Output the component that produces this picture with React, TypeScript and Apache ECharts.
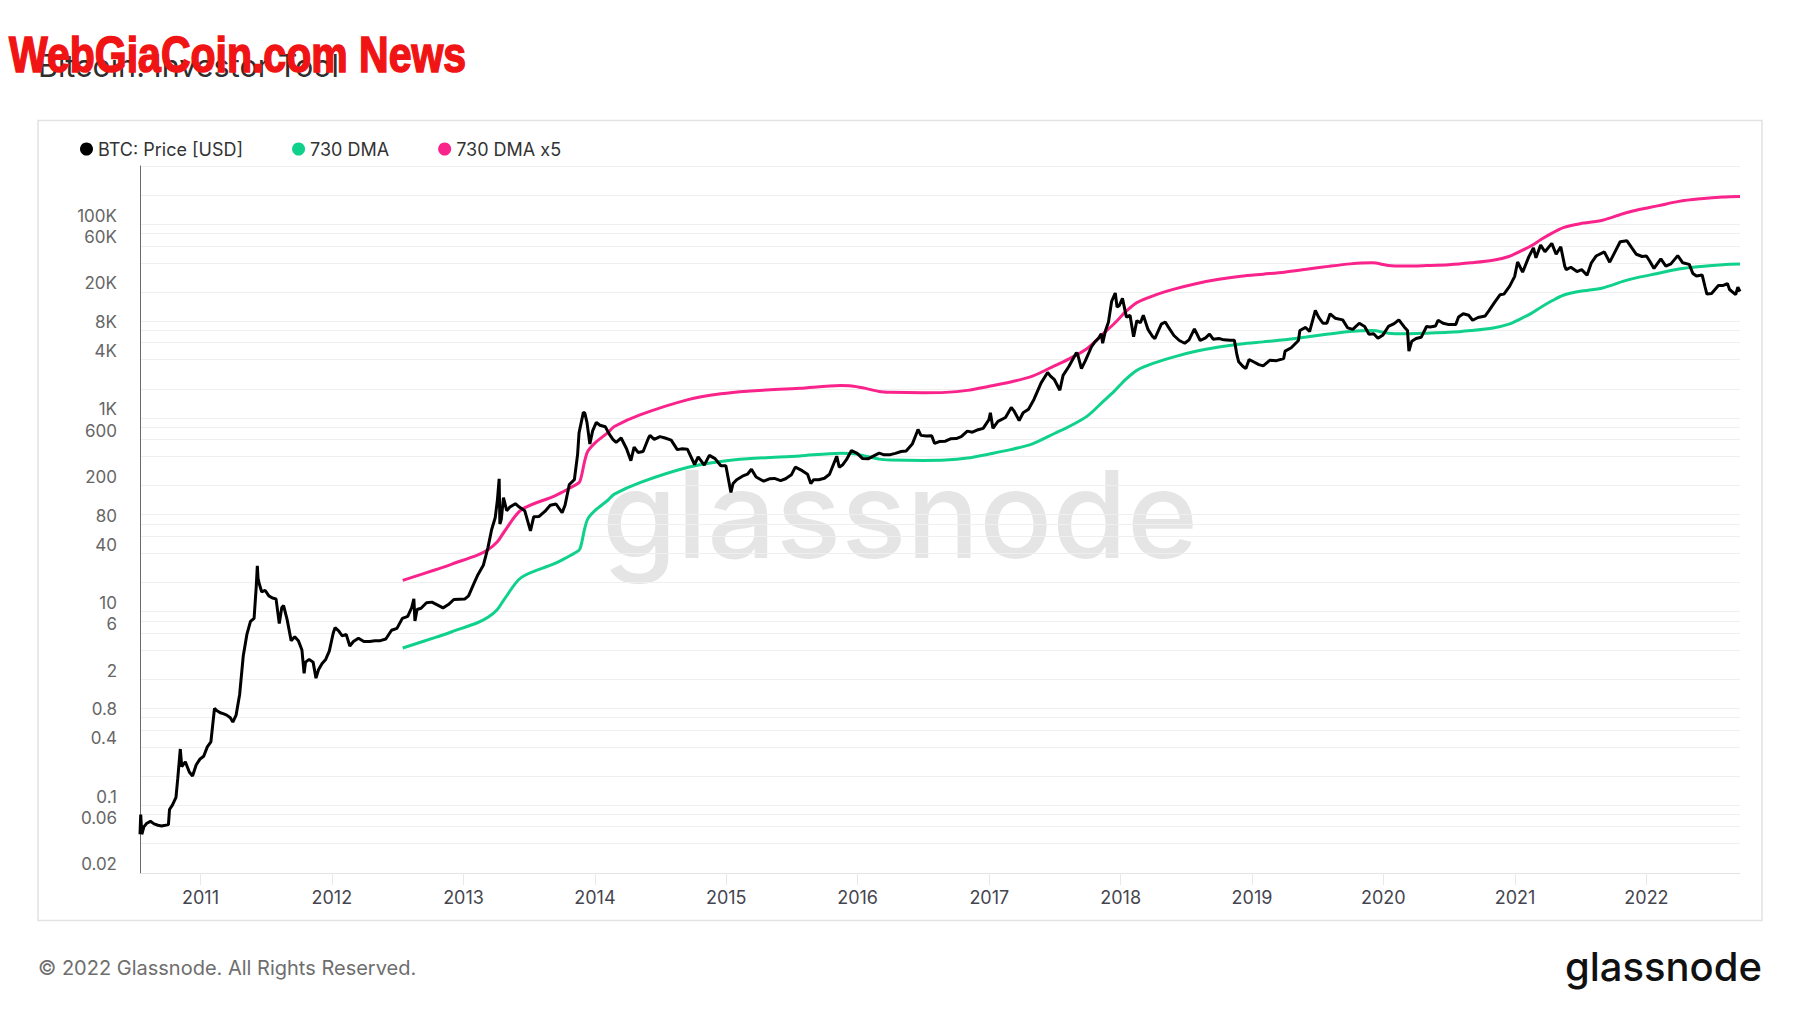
import React, { useEffect, useRef } from "react";
import * as echarts from "echarts";

const seriesNames = ["BTC: Price [USD]", "730 DMA", "730 DMA x5"];
const seriesColors = ["#000000", "#0fd18b", "#f9238b"];

const btcPrice: [string, number][] = [
  ["2010-07-17", 0.05], ["2010-07-19", 0.08], ["2010-07-22", 0.05], ["2010-07-28", 0.06],
  ["2010-08-05", 0.065], ["2010-08-15", 0.068], ["2010-08-25", 0.064], ["2010-09-05", 0.062],
  ["2010-09-15", 0.061], ["2010-09-25", 0.062], ["2010-10-04", 0.063], ["2010-10-07", 0.09],
  ["2010-10-15", 0.1], ["2010-10-25", 0.12], ["2010-10-30", 0.19], ["2010-11-06", 0.38],
  ["2010-11-10", 0.25], ["2010-11-20", 0.28], ["2010-12-01", 0.22], ["2010-12-10", 0.2],
  ["2010-12-20", 0.26], ["2010-12-31", 0.3],
  ["2011-01-10", 0.32], ["2011-01-20", 0.4], ["2011-01-30", 0.45], ["2011-02-09", 1.0],
  ["2011-02-15", 0.95], ["2011-02-25", 0.9], ["2011-03-05", 0.88], ["2011-03-15", 0.85],
  ["2011-03-25", 0.8], ["2011-04-01", 0.72], ["2011-04-10", 0.85], ["2011-04-20", 1.4],
  ["2011-04-30", 3.5], ["2011-05-10", 5.8], ["2011-05-20", 7.9], ["2011-05-30", 8.5],
  ["2011-06-05", 18], ["2011-06-08", 29.6], ["2011-06-10", 22], ["2011-06-14", 19],
  ["2011-06-20", 16], ["2011-06-30", 16.5], ["2011-07-10", 14.5], ["2011-07-20", 13.8],
  ["2011-07-30", 13.5], ["2011-08-08", 7.5], ["2011-08-15", 11], ["2011-08-20", 11.5],
  ["2011-08-30", 8.2], ["2011-09-10", 5.0], ["2011-09-20", 5.5], ["2011-09-30", 5.0],
  ["2011-10-10", 4.0], ["2011-10-16", 2.3], ["2011-10-20", 3.0], ["2011-10-30", 3.2],
  ["2011-11-10", 3.0], ["2011-11-18", 2.05], ["2011-11-25", 2.5], ["2011-12-05", 2.9],
  ["2011-12-15", 3.2], ["2011-12-25", 3.9],
  ["2012-01-05", 6.0], ["2012-01-10", 6.8], ["2012-01-20", 6.3], ["2012-01-30", 5.6],
  ["2012-02-10", 5.8], ["2012-02-20", 4.4], ["2012-03-01", 4.9], ["2012-03-15", 5.3],
  ["2012-03-30", 4.9], ["2012-04-15", 4.9], ["2012-04-30", 5.0], ["2012-05-15", 5.0],
  ["2012-05-30", 5.2], ["2012-06-15", 6.4], ["2012-06-30", 6.7], ["2012-07-15", 8.5],
  ["2012-07-30", 8.9], ["2012-08-10", 11], ["2012-08-16", 13.5], ["2012-08-19", 8.0],
  ["2012-08-25", 10.5], ["2012-09-05", 10.8], ["2012-09-20", 12.3], ["2012-10-05", 12.5],
  ["2012-10-20", 11.7], ["2012-11-05", 10.9], ["2012-11-20", 11.8], ["2012-12-05", 13.3],
  ["2012-12-20", 13.4],
  ["2013-01-05", 13.5], ["2013-01-15", 14.5], ["2013-01-30", 19.5], ["2013-02-10", 24],
  ["2013-02-25", 30], ["2013-03-10", 46], ["2013-03-20", 70], ["2013-03-30", 93],
  ["2013-04-05", 140], ["2013-04-10", 235], ["2013-04-12", 80], ["2013-04-16", 90],
  ["2013-04-22", 150], ["2013-05-01", 110], ["2013-05-10", 120], ["2013-05-25", 130],
  ["2013-06-05", 120], ["2013-06-20", 110], ["2013-07-06", 68], ["2013-07-15", 95],
  ["2013-07-30", 96], ["2013-08-15", 108], ["2013-08-30", 125], ["2013-09-15", 129],
  ["2013-10-02", 105], ["2013-10-10", 125], ["2013-10-22", 205], ["2013-11-05", 230],
  ["2013-11-14", 420], ["2013-11-18", 700], ["2013-11-30", 1140], ["2013-12-04", 1120],
  ["2013-12-10", 900], ["2013-12-18", 538], ["2013-12-26", 740],
  ["2014-01-05", 900], ["2014-01-15", 840], ["2014-01-30", 810], ["2014-02-10", 680],
  ["2014-02-20", 600], ["2014-03-01", 560], ["2014-03-15", 620], ["2014-03-30", 480],
  ["2014-04-11", 362], ["2014-04-20", 500], ["2014-05-01", 440], ["2014-05-15", 450],
  ["2014-05-30", 620], ["2014-06-03", 660], ["2014-06-15", 600], ["2014-07-01", 640],
  ["2014-07-15", 620], ["2014-08-01", 590], ["2014-08-18", 470], ["2014-09-01", 480],
  ["2014-09-15", 475], ["2014-10-05", 330], ["2014-10-15", 395], ["2014-11-01", 325],
  ["2014-11-15", 410], ["2014-12-01", 380], ["2014-12-17", 320], ["2014-12-31", 320],
  ["2015-01-14", 170], ["2015-01-20", 210], ["2015-01-30", 230], ["2015-02-15", 250],
  ["2015-03-01", 262], ["2015-03-12", 295], ["2015-03-25", 245], ["2015-04-15", 222],
  ["2015-05-01", 235], ["2015-05-15", 237], ["2015-06-01", 225], ["2015-06-15", 235],
  ["2015-07-01", 258], ["2015-07-12", 310], ["2015-07-31", 285], ["2015-08-15", 262],
  ["2015-08-24", 210], ["2015-09-01", 230], ["2015-09-15", 230], ["2015-10-01", 238],
  ["2015-10-15", 262], ["2015-11-04", 402], ["2015-11-11", 310], ["2015-11-20", 326],
  ["2015-12-01", 370], ["2015-12-15", 460], ["2015-12-31", 430],
  ["2016-01-15", 380], ["2016-01-30", 378], ["2016-02-15", 405], ["2016-03-01", 432],
  ["2016-03-15", 415], ["2016-04-01", 417], ["2016-04-15", 430], ["2016-05-01", 450],
  ["2016-05-15", 456], ["2016-06-01", 536], ["2016-06-17", 760], ["2016-06-25", 660],
  ["2016-07-10", 650], ["2016-07-25", 655], ["2016-08-02", 545], ["2016-08-15", 570],
  ["2016-09-01", 575], ["2016-09-15", 608], ["2016-10-01", 612], ["2016-10-15", 640],
  ["2016-11-01", 730], ["2016-11-15", 712], ["2016-12-01", 755], ["2016-12-15", 780],
  ["2016-12-31", 960],
  ["2017-01-04", 1130], ["2017-01-11", 780], ["2017-01-25", 920], ["2017-02-15", 1010],
  ["2017-03-03", 1280], ["2017-03-10", 1190], ["2017-03-25", 940], ["2017-04-05", 1130],
  ["2017-04-20", 1230], ["2017-05-05", 1550], ["2017-05-25", 2300], ["2017-06-12", 2950],
  ["2017-06-20", 2700], ["2017-07-01", 2480], ["2017-07-16", 1930], ["2017-07-25", 2750],
  ["2017-08-10", 3400], ["2017-08-31", 4700], ["2017-09-03", 4600], ["2017-09-14", 3230],
  ["2017-09-25", 3900], ["2017-10-12", 5430], ["2017-10-20", 6000], ["2017-11-01", 6700],
  ["2017-11-08", 7400], ["2017-11-12", 5900], ["2017-11-20", 8000], ["2017-11-28", 9700],
  ["2017-12-07", 16000], ["2017-12-17", 19500], ["2017-12-22", 14000], ["2017-12-28", 14400],
  ["2018-01-06", 17200], ["2018-01-17", 11000], ["2018-01-27", 11500], ["2018-02-06", 6900],
  ["2018-02-15", 10100], ["2018-02-25", 9600], ["2018-03-05", 11500], ["2018-03-18", 8200],
  ["2018-03-31", 6900], ["2018-04-06", 6600], ["2018-04-24", 9300], ["2018-05-05", 9800],
  ["2018-05-15", 8500], ["2018-05-29", 7100], ["2018-06-13", 6300], ["2018-06-28", 5900],
  ["2018-07-10", 6400], ["2018-07-25", 8300], ["2018-08-10", 6300], ["2018-08-25", 6700],
  ["2018-09-05", 7350], ["2018-09-15", 6500], ["2018-10-01", 6600], ["2018-10-15", 6400],
  ["2018-11-01", 6350], ["2018-11-13", 6350], ["2018-11-20", 4500], ["2018-11-25", 3800],
  ["2018-12-07", 3400], ["2018-12-15", 3230], ["2018-12-24", 4000],
  ["2019-01-05", 3800], ["2019-01-20", 3550], ["2019-02-01", 3450], ["2019-02-20", 3950],
  ["2019-03-10", 3900], ["2019-03-30", 4100], ["2019-04-03", 4900], ["2019-04-20", 5300],
  ["2019-05-10", 6300], ["2019-05-14", 8000], ["2019-05-30", 8600], ["2019-06-10", 7800],
  ["2019-06-26", 12900], ["2019-07-05", 11000], ["2019-07-17", 9500], ["2019-07-28", 9500],
  ["2019-08-06", 11900], ["2019-08-20", 10700], ["2019-09-10", 10300], ["2019-09-24", 8500],
  ["2019-10-08", 8200], ["2019-10-26", 9500], ["2019-11-10", 8800], ["2019-11-22", 7300],
  ["2019-12-05", 7400], ["2019-12-17", 6650], ["2019-12-31", 7200],
  ["2020-01-15", 8800], ["2020-01-31", 9400], ["2020-02-13", 10300], ["2020-02-28", 8700],
  ["2020-03-08", 8000], ["2020-03-12", 4900], ["2020-03-20", 6200], ["2020-04-01", 6600],
  ["2020-04-15", 6800], ["2020-04-30", 8800], ["2020-05-10", 8700], ["2020-05-25", 8900],
  ["2020-06-01", 10200], ["2020-06-15", 9500], ["2020-07-01", 9200], ["2020-07-20", 9200],
  ["2020-07-28", 11000], ["2020-08-10", 11900], ["2020-08-25", 11500], ["2020-09-05", 10200],
  ["2020-09-20", 10900], ["2020-10-10", 11300], ["2020-10-21", 12900], ["2020-11-05", 15600],
  ["2020-11-20", 18700], ["2020-12-01", 19000], ["2020-12-17", 23000], ["2020-12-31", 29000],
  ["2021-01-08", 40800], ["2021-01-22", 32000], ["2021-02-08", 46000], ["2021-02-21", 57000],
  ["2021-02-28", 45000], ["2021-03-13", 61000], ["2021-03-25", 52000], ["2021-04-13", 63500],
  ["2021-04-25", 49000], ["2021-05-08", 58500], ["2021-05-19", 37000], ["2021-05-23", 34000],
  ["2021-06-05", 36000], ["2021-06-22", 32500], ["2021-07-05", 34000], ["2021-07-20", 29800],
  ["2021-08-01", 40000], ["2021-08-14", 47000], ["2021-09-06", 51800], ["2021-09-21", 40600],
  ["2021-10-01", 48000], ["2021-10-20", 66000], ["2021-11-08", 67500], ["2021-11-20", 58000],
  ["2021-12-04", 49000], ["2021-12-20", 46500],
  ["2022-01-01", 47000], ["2022-01-10", 41800], ["2022-01-22", 35000], ["2022-02-10", 44000],
  ["2022-02-24", 37000], ["2022-03-10", 39000], ["2022-03-29", 47500], ["2022-04-12", 40000],
  ["2022-04-30", 38500], ["2022-05-10", 31000], ["2022-05-20", 29200], ["2022-06-05", 29900],
  ["2022-06-13", 22500], ["2022-06-18", 19000], ["2022-07-01", 19300], ["2022-07-20", 23300],
  ["2022-08-01", 23300], ["2022-08-14", 24400], ["2022-08-20", 21200], ["2022-09-06", 18800],
  ["2022-09-12", 22400], ["2022-09-18", 20200],
];

const dma730: [string, number][] = [
  ["2012-07-16", 4.2], ["2012-10-15", 5.4], ["2012-12-06", 6.3], ["2013-02-10", 7.7],
  ["2013-03-10", 8.7], ["2013-04-05", 10.5], ["2013-04-25", 13.5], ["2013-06-10", 22.4],
  ["2013-09-09", 31], ["2013-10-01", 34], ["2013-11-05", 40], ["2013-11-20", 44],
  ["2013-12-03", 70], ["2013-12-12", 90], ["2014-01-01", 110], ["2014-02-06", 141],
  ["2014-02-24", 163], ["2014-05-08", 216], ["2014-09-17", 309], ["2014-12-17", 355],
  ["2015-03-01", 378], ["2015-07-24", 405], ["2015-11-15", 431], ["2015-12-15", 428],
  ["2016-01-15", 410], ["2016-03-01", 375], ["2016-04-01", 368], ["2016-07-01", 364],
  ["2016-09-01", 367], ["2016-11-01", 385], ["2017-01-01", 424], ["2017-03-01", 470],
  ["2017-05-01", 540], ["2017-07-01", 690], ["2017-08-15", 830], ["2017-10-01", 1050],
  ["2017-11-15", 1500], ["2017-12-15", 1900], ["2018-01-15", 2500], ["2018-02-15", 3100],
  ["2018-04-01", 3650], ["2018-06-01", 4300], ["2018-08-01", 4900], ["2018-10-01", 5400],
  ["2018-12-01", 5800], ["2019-02-01", 6100], ["2019-04-01", 6400], ["2019-06-01", 6850],
  ["2019-08-01", 7350], ["2019-10-01", 7800], ["2019-12-01", 8000], ["2020-01-15", 7500],
  ["2020-03-01", 7400], ["2020-05-01", 7500], ["2020-07-01", 7650], ["2020-09-01", 8000],
  ["2020-11-01", 8500], ["2020-12-15", 9300], ["2021-01-15", 10500], ["2021-02-15", 12000],
  ["2021-03-15", 14000], ["2021-04-15", 16300], ["2021-05-15", 18500], ["2021-07-01", 20300],
  ["2021-09-01", 22000], ["2021-11-01", 26000], ["2021-12-15", 28600], ["2022-02-01", 31000],
  ["2022-04-01", 34500], ["2022-06-01", 36700], ["2022-08-01", 38300], ["2022-09-18", 38800],
];

const yearTicks = [
  "2011-01-01", "2012-01-01", "2013-01-01", "2014-01-01", "2015-01-01", "2016-01-01",
  "2017-01-01", "2018-01-01", "2019-01-01", "2020-01-01", "2021-01-01", "2022-01-01",
];

const xStart = "2010-07-17";
const xEnd = "2022-09-18";

const yGridTicks = [
  0.02, 0.04, 0.06, 0.08, 0.1, 0.2, 0.4, 0.6, 0.8, 1, 2, 4, 6, 8, 10, 20, 40, 60, 80, 100,
  200, 400, 600, 800, 1000, 2000, 4000, 6000, 8000, 10000, 20000, 40000, 60000, 80000,
  100000, 200000, 400000,
];

const yLabelTicks = [
  0.02, 0.06, 0.1, 0.4, 0.8, 2, 6, 10, 40, 80, 200, 600, 1000, 4000, 8000, 20000, 60000, 100000,
];

const FONT = "Inter, 'Noto Sans', sans-serif";

const toTime = (d: string) => Date.parse(d + "T00:00:00Z");

export default function App() {
  const ref = useRef<HTMLDivElement>(null);

  useEffect(() => {
    const chart = echarts.init(ref.current as HTMLDivElement, null, { renderer: "svg" });
    const priceData = btcPrice.map(([d, v]) => [toTime(d), v]);
    const dmaData = dma730.map(([d, v]) => [toTime(d), v]);
    const dmaX5Data = dma730.map(([d, v]) => [toTime(d), v * 5]);
    const yearValues = yearTicks.map(toTime);

    chart.setOption({
      animation: false,
      backgroundColor: "#ffffff",
      textStyle: { fontFamily: FONT },
      graphic: [
        {
          type: "rect",
          z: -10,
          shape: { x: 38, y: 120.5, width: 1724, height: 800 },
          style: { fill: "#ffffff", stroke: "#e2e2e2", lineWidth: 1.5 },
        },
        {
          type: "text",
          z: -5,
          x: 900,
          y: 514,
          style: {
            text: "glassnode",
            font: `500 121px ${FONT}`,
            fill: "rgba(0,0,0,0.1)",
            textAlign: "center",
            textVerticalAlign: "middle",
          },
        },
        {
          type: "text",
          x: 38,
          y: 65,
          style: {
            text: "Bitcoin: Investor Tool",
            font: `400 30.5px ${FONT}`,
            fill: "#2e2e2e",
            textAlign: "left",
            textVerticalAlign: "middle",
          },
        },
        {
          type: "text",
          x: 9,
          y: 55,
          z: 10,
          scaleX: 0.82,
          style: {
            text: "WebGiaCoin.com News",
            font: "bold 50px 'Liberation Sans', Arial, sans-serif",
            fill: "#f01414",
            stroke: "#f01414",
            lineWidth: 1.6,
            textAlign: "left",
            textVerticalAlign: "middle",
          },
        },
        {
          type: "text",
          x: 38,
          y: 968,
          style: {
            text: "© 2022 Glassnode. All Rights Reserved.",
            font: `400 20px ${FONT}`,
            fill: "#6e6e6e",
            textAlign: "left",
            textVerticalAlign: "middle",
          },
        },
        {
          type: "text",
          x: 1762,
          y: 966,
          style: {
            text: "glassnode",
            font: `500 40px ${FONT}`,
            fill: "#111111",
            textAlign: "right",
            textVerticalAlign: "middle",
          },
        },
      ],
      legend: {
        left: 75,
        top: 135,
        icon: "circle",
        itemWidth: 13,
        itemHeight: 13,
        itemGap: 49,
        data: seriesNames,
        textStyle: { fontSize: 18, color: "#333333", fontFamily: FONT },
      },
      grid: {
        left: 140,
        right: 60,
        top: 166,
        bottom: 140,
        containLabel: false,
      },
      xAxis: {
        type: "value",
        min: toTime(xStart),
        max: toTime(xEnd),
        axisLine: { show: true, lineStyle: { color: "#e4e4e4", width: 1 } },
        axisTick: {
          show: true,
          customValues: yearValues,
          length: 12,
          lineStyle: { color: "#e8e8e8" },
        },
        axisLabel: {
          customValues: yearValues,
          margin: 15,
          fontSize: 18,
          color: "#45454f",
          fontFamily: FONT,
          formatter: (v: number) => String(new Date(v).getUTCFullYear()),
        },
        splitLine: { show: false },
      },
      yAxis: {
        type: "log",
        logBase: 10,
        min: 0.0199,
        max: 400000,
        axisLine: { show: true, lineStyle: { color: "#6a6a6a", width: 1 } },
        axisTick: { show: false, customValues: yGridTicks },
        splitLine: { show: true, lineStyle: { color: "#efefef", width: 1 } },
        axisLabel: {
          customValues: yLabelTicks,
          showMinLabel: true,
          margin: 23,
          fontSize: 17,
          color: "#666666",
          fontFamily: FONT,
          verticalAlign: "bottom",
          formatter: (v: number) => {
            const n = Number(Number(v).toPrecision(3));
            return n >= 1000 ? `${n / 1000}K` : String(n);
          },
        },
      },
      series: [
        {
          name: seriesNames[0],
          type: "line",
          data: priceData,
          showSymbol: false,
          z: 4,
          color: seriesColors[0],
          lineStyle: { width: 3, color: seriesColors[0] },
        },
        {
          name: seriesNames[1],
          type: "line",
          data: dmaData,
          showSymbol: false,
          smooth: 0.3,
          z: 3,
          color: seriesColors[1],
          lineStyle: { width: 3, color: seriesColors[1] },
        },
        {
          name: seriesNames[2],
          type: "line",
          data: dmaX5Data,
          showSymbol: false,
          smooth: 0.3,
          z: 3,
          color: seriesColors[2],
          lineStyle: { width: 3, color: seriesColors[2] },
        },
      ],
    });

    return () => chart.dispose();
  }, []);

  return (
    <div
      ref={ref}
      style={{ position: "absolute", left: 0, top: 0, width: 1800, height: 1013, background: "#fff" }}
    />
  );
}
